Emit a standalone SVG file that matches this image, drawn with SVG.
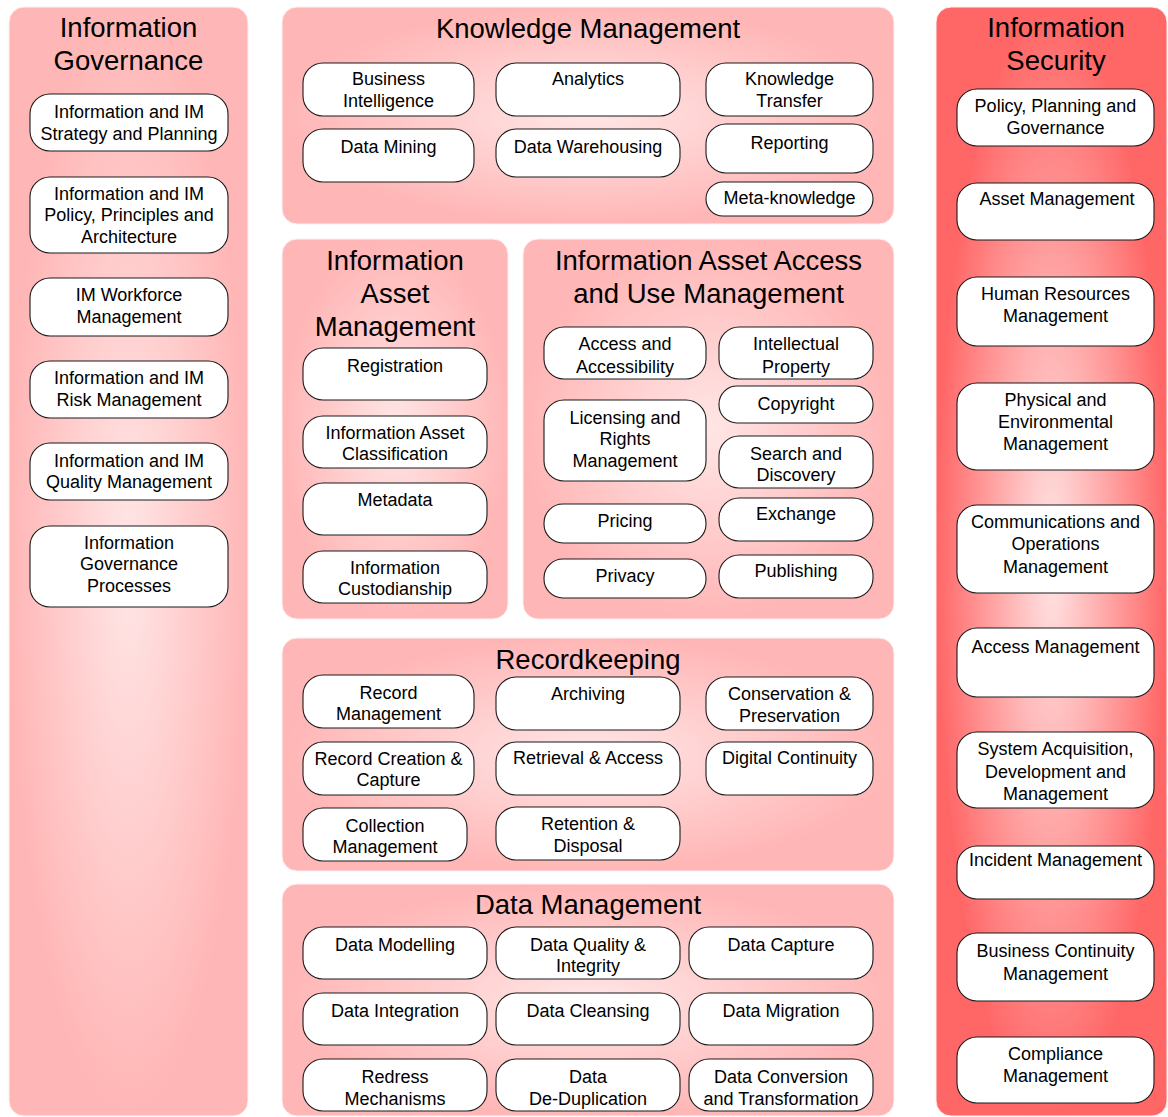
<svg xmlns="http://www.w3.org/2000/svg" width="1168" height="1117" viewBox="0 0 1168 1117">
  <defs>
    <radialGradient id="soft" cx="50%" cy="50%" r="50%">
      <stop offset="0" stop-color="#ffe6e6"/>
      <stop offset="1" stop-color="#ffb6b6"/>
    </radialGradient>
    <radialGradient id="alert" cx="50%" cy="50%" r="50%">
      <stop offset="0" stop-color="#ffe4e4"/>
      <stop offset="1" stop-color="#ff6666"/>
    </radialGradient>
    <style>
      .panel { fill: url(#soft); stroke: #fff0f0; stroke-width: 1; }
      .panel.sec { fill: url(#alert); }
      .node rect { fill: #ffffff; stroke: #1a1a1a; stroke-width: 1.1; }
      text { font-family: "Liberation Sans", Arial, sans-serif; fill: #000; text-anchor: middle; }
      .h { font-size: 27.5px; }
      .t { font-size: 18px; }
    </style>
  </defs>
  <rect width="1168" height="1117" fill="#ffffff"/>

  <!-- Information Governance column -->
  <g id="information-governance">
    <rect class="panel" x="9" y="7" width="239" height="1109" rx="15"/>
    <text class="h" x="128.5" y="37">Information</text>
    <text class="h" x="128.5" y="70">Governance</text>
    <g id="ig-strategy" class="node"><rect x="30" y="94" width="198" height="57" rx="20"/>
      <text class="t" x="129" y="118">Information and IM</text><text class="t" x="129" y="139.5">Strategy and Planning</text></g>
    <g id="ig-policy" class="node"><rect x="30" y="177" width="198" height="76" rx="20"/>
      <text class="t" x="129" y="199.5">Information and IM</text><text class="t" x="129" y="221">Policy, Principles and</text><text class="t" x="129" y="242.5">Architecture</text></g>
    <g id="ig-workforce" class="node"><rect x="30" y="278" width="198" height="58" rx="20"/>
      <text class="t" x="129" y="301">IM Workforce</text><text class="t" x="129" y="323">Management</text></g>
    <g id="ig-risk" class="node"><rect x="30" y="361" width="198" height="57" rx="20"/>
      <text class="t" x="129" y="384">Information and IM</text><text class="t" x="129" y="405.5">Risk Management</text></g>
    <g id="ig-quality" class="node"><rect x="30" y="443" width="198" height="57" rx="20"/>
      <text class="t" x="129" y="466.5">Information and IM</text><text class="t" x="129" y="488">Quality Management</text></g>
    <g id="ig-processes" class="node"><rect x="30" y="526" width="198" height="81" rx="20"/>
      <text class="t" x="129" y="548.5">Information</text><text class="t" x="129" y="570">Governance</text><text class="t" x="129" y="591.5">Processes</text></g>
  </g>

  <!-- Knowledge Management -->
  <g id="knowledge-management">
    <rect class="panel" x="282" y="7" width="612" height="217" rx="15"/>
    <text class="h" x="588" y="37.5">Knowledge Management</text>
    <g id="km-bi" class="node"><rect x="303" y="63" width="171" height="53" rx="20"/>
      <text class="t" x="388.5" y="85">Business</text><text class="t" x="388.5" y="106.5">Intelligence</text></g>
    <g id="km-analytics" class="node"><rect x="496" y="63" width="184" height="53" rx="20"/>
      <text class="t" x="588" y="85">Analytics</text></g>
    <g id="km-transfer" class="node"><rect x="706" y="63" width="167" height="53" rx="20"/>
      <text class="t" x="789.5" y="85">Knowledge</text><text class="t" x="789.5" y="106.5">Transfer</text></g>
    <g id="km-mining" class="node"><rect x="303" y="129" width="171" height="53" rx="20"/>
      <text class="t" x="388.5" y="152.5">Data Mining</text></g>
    <g id="km-warehousing" class="node"><rect x="496" y="129" width="184" height="48" rx="20"/>
      <text class="t" x="588" y="152.5">Data Warehousing</text></g>
    <g id="km-reporting" class="node"><rect x="706" y="124" width="167" height="49" rx="20"/>
      <text class="t" x="789.5" y="148.5">Reporting</text></g>
    <g id="km-meta" class="node"><rect x="706" y="182" width="167" height="34" rx="17"/>
      <text class="t" x="789.5" y="204">Meta-knowledge</text></g>
  </g>

  <!-- Information Asset Management -->
  <g id="information-asset-management">
    <rect class="panel" x="282" y="239" width="226" height="380" rx="15"/>
    <text class="h" x="395" y="270">Information</text>
    <text class="h" x="395" y="303">Asset</text>
    <text class="h" x="395" y="336">Management</text>
    <g id="iam-registration" class="node"><rect x="303" y="348" width="184" height="52" rx="20"/>
      <text class="t" x="395" y="371.5">Registration</text></g>
    <g id="iam-classification" class="node"><rect x="303" y="416" width="184" height="52" rx="20"/>
      <text class="t" x="395" y="438.5">Information Asset</text><text class="t" x="395" y="460">Classification</text></g>
    <g id="iam-metadata" class="node"><rect x="303" y="483" width="184" height="52" rx="20"/>
      <text class="t" x="395" y="506">Metadata</text></g>
    <g id="iam-custodianship" class="node"><rect x="303" y="551" width="184" height="52" rx="20"/>
      <text class="t" x="395" y="573.5">Information</text><text class="t" x="395" y="594.5">Custodianship</text></g>
  </g>

  <!-- Information Asset Access and Use Management -->
  <g id="access-and-use">
    <rect class="panel" x="523" y="239" width="371" height="380" rx="15"/>
    <text class="h" x="708.5" y="269.5">Information Asset Access</text>
    <text class="h" x="708.5" y="302.5">and Use Management</text>
    <g id="au-access" class="node"><rect x="544" y="327" width="162" height="52" rx="20"/>
      <text class="t" x="625" y="350">Access and</text><text class="t" x="625" y="372.5">Accessibility</text></g>
    <g id="au-ip" class="node"><rect x="719" y="327" width="154" height="52" rx="20"/>
      <text class="t" x="796" y="350">Intellectual</text><text class="t" x="796" y="372.5">Property</text></g>
    <g id="au-copyright" class="node"><rect x="719" y="386" width="154" height="37" rx="18"/>
      <text class="t" x="796" y="410">Copyright</text></g>
    <g id="au-licensing" class="node"><rect x="544" y="400" width="162" height="81" rx="20"/>
      <text class="t" x="625" y="423.5">Licensing and</text><text class="t" x="625" y="445">Rights</text><text class="t" x="625" y="467">Management</text></g>
    <g id="au-search" class="node"><rect x="719" y="436" width="154" height="52" rx="20"/>
      <text class="t" x="796" y="459.5">Search and</text><text class="t" x="796" y="481">Discovery</text></g>
    <g id="au-pricing" class="node"><rect x="544" y="504" width="162" height="39" rx="19"/>
      <text class="t" x="625" y="527">Pricing</text></g>
    <g id="au-exchange" class="node"><rect x="719" y="498" width="154" height="43" rx="20"/>
      <text class="t" x="796" y="520">Exchange</text></g>
    <g id="au-privacy" class="node"><rect x="544" y="559" width="162" height="39" rx="19"/>
      <text class="t" x="625" y="582">Privacy</text></g>
    <g id="au-publishing" class="node"><rect x="719" y="555" width="154" height="43" rx="20"/>
      <text class="t" x="796" y="577">Publishing</text></g>
  </g>

  <!-- Recordkeeping -->
  <g id="recordkeeping">
    <rect class="panel" x="282" y="638" width="612" height="233" rx="15"/>
    <text class="h" x="588" y="668.5">Recordkeeping</text>
    <g id="rk-record" class="node"><rect x="303" y="675" width="171" height="53" rx="20"/>
      <text class="t" x="388.5" y="698.5">Record</text><text class="t" x="388.5" y="720">Management</text></g>
    <g id="rk-archiving" class="node"><rect x="496" y="677" width="184" height="53" rx="20"/>
      <text class="t" x="588" y="700">Archiving</text></g>
    <g id="rk-conservation" class="node"><rect x="706" y="677" width="167" height="53" rx="20"/>
      <text class="t" x="789.5" y="700">Conservation &amp;</text><text class="t" x="789.5" y="721.5">Preservation</text></g>
    <g id="rk-creation" class="node"><rect x="303" y="742" width="171" height="53" rx="20"/>
      <text class="t" x="388.5" y="764.5">Record Creation &amp;</text><text class="t" x="388.5" y="786">Capture</text></g>
    <g id="rk-retrieval" class="node"><rect x="496" y="742" width="184" height="53" rx="20"/>
      <text class="t" x="588" y="763.5">Retrieval &amp; Access</text></g>
    <g id="rk-continuity" class="node"><rect x="706" y="742" width="167" height="53" rx="20"/>
      <text class="t" x="789.5" y="763.5">Digital Continuity</text></g>
    <g id="rk-collection" class="node"><rect x="303" y="808" width="164" height="53" rx="20"/>
      <text class="t" x="385" y="831.5">Collection</text><text class="t" x="385" y="853">Management</text></g>
    <g id="rk-retention" class="node"><rect x="496" y="807" width="184" height="53" rx="20"/>
      <text class="t" x="588" y="829.5">Retention &amp;</text><text class="t" x="588" y="851.5">Disposal</text></g>
  </g>

  <!-- Data Management -->
  <g id="data-management">
    <rect class="panel" x="282" y="884" width="612" height="232" rx="15"/>
    <text class="h" x="588" y="914">Data Management</text>
    <g id="dm-modelling" class="node"><rect x="303" y="927" width="184" height="52" rx="20"/>
      <text class="t" x="395" y="950.5">Data Modelling</text></g>
    <g id="dm-quality" class="node"><rect x="496" y="927" width="184" height="52" rx="20"/>
      <text class="t" x="588" y="950.5">Data Quality &amp;</text><text class="t" x="588" y="972">Integrity</text></g>
    <g id="dm-capture" class="node"><rect x="689" y="927" width="184" height="52" rx="20"/>
      <text class="t" x="781" y="950.5">Data Capture</text></g>
    <g id="dm-integration" class="node"><rect x="303" y="993" width="184" height="52" rx="20"/>
      <text class="t" x="395" y="1016.5">Data Integration</text></g>
    <g id="dm-cleansing" class="node"><rect x="496" y="993" width="184" height="52" rx="20"/>
      <text class="t" x="588" y="1016.5">Data Cleansing</text></g>
    <g id="dm-migration" class="node"><rect x="689" y="993" width="184" height="52" rx="20"/>
      <text class="t" x="781" y="1016.5">Data Migration</text></g>
    <g id="dm-redress" class="node"><rect x="303" y="1059" width="184" height="52" rx="20"/>
      <text class="t" x="395" y="1083">Redress</text><text class="t" x="395" y="1104.5">Mechanisms</text></g>
    <g id="dm-dedup" class="node"><rect x="496" y="1059" width="184" height="52" rx="20"/>
      <text class="t" x="588" y="1083">Data</text><text class="t" x="588" y="1104.5">De-Duplication</text></g>
    <g id="dm-conversion" class="node"><rect x="689" y="1059" width="184" height="52" rx="20"/>
      <text class="t" x="781" y="1083">Data Conversion</text><text class="t" x="781" y="1104.5">and Transformation</text></g>
  </g>

  <!-- Information Security column -->
  <g id="information-security">
    <rect class="panel sec" x="936" y="7" width="231" height="1109" rx="15"/>
    <text class="h" x="1056" y="37">Information</text>
    <text class="h" x="1056" y="70">Security</text>
    <g id="is-policy" class="node"><rect x="957" y="89" width="197" height="57" rx="20"/>
      <text class="t" x="1055.5" y="112">Policy, Planning and</text><text class="t" x="1055.5" y="134">Governance</text></g>
    <g id="is-asset" class="node"><rect x="957" y="183" width="197" height="57" rx="20"/>
      <text class="t" x="1057" y="204.5">Asset Management</text></g>
    <g id="is-hr" class="node"><rect x="957" y="277" width="197" height="69" rx="20"/>
      <text class="t" x="1055.5" y="299.5">Human Resources</text><text class="t" x="1055.5" y="321.5">Management</text></g>
    <g id="is-physical" class="node"><rect x="957" y="383" width="197" height="87" rx="20"/>
      <text class="t" x="1055.5" y="405.5">Physical and</text><text class="t" x="1055.5" y="427.5">Environmental</text><text class="t" x="1055.5" y="450">Management</text></g>
    <g id="is-comms" class="node"><rect x="957" y="505" width="197" height="88" rx="20"/>
      <text class="t" x="1055.5" y="528">Communications and</text><text class="t" x="1055.5" y="550">Operations</text><text class="t" x="1055.5" y="572.5">Management</text></g>
    <g id="is-access" class="node"><rect x="957" y="628" width="197" height="69" rx="20"/>
      <text class="t" x="1055.5" y="652.5">Access Management</text></g>
    <g id="is-system" class="node"><rect x="957" y="732" width="197" height="76" rx="20"/>
      <text class="t" x="1055.5" y="755">System Acquisition,</text><text class="t" x="1055.5" y="777.5">Development and</text><text class="t" x="1055.5" y="800">Management</text></g>
    <g id="is-incident" class="node"><rect x="957" y="846" width="197" height="53" rx="20"/>
      <text class="t" x="1055.5" y="866">Incident Management</text></g>
    <g id="is-continuity" class="node"><rect x="957" y="933" width="197" height="68" rx="20"/>
      <text class="t" x="1055.5" y="957">Business Continuity</text><text class="t" x="1055.5" y="979.5">Management</text></g>
    <g id="is-compliance" class="node"><rect x="957" y="1037" width="197" height="66" rx="20"/>
      <text class="t" x="1055.5" y="1060">Compliance</text><text class="t" x="1055.5" y="1082">Management</text></g>
  </g>

  <!-- no connectors in this layout -->
  <g id="connectors"/>
</svg>
